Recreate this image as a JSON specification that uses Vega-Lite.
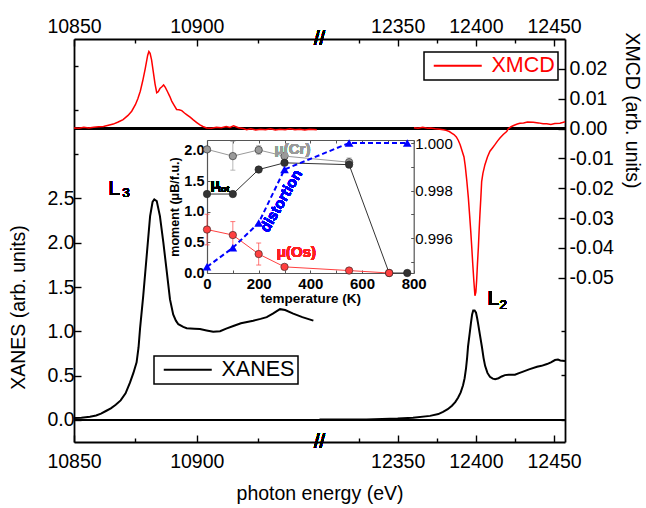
{
  "$schema": "https://vega.github.io/schema/vega-lite/v6.json",
  "width": 491,
  "height": 403,
  "autosize": {"type": "none"},
  "padding": {"left": 74, "top": 39, "right": 81, "bottom": 66},
  "background": "white",
  "config": {
    "view": {"stroke": null},
    "font": "Liberation Sans",
    "text": {"font": "Liberation Sans"},
    "axis": {"grid": false, "domainColor": "black", "domainWidth": 1.8, "tickColor": "black", "tickWidth": 1.4, "labelColor": "black", "titleColor": "black", "labelFont": "Liberation Sans", "titleFont": "Liberation Sans", "labelFlush": false, "labelOverlap": false},
    "legend": {"strokeWidth": 1.5}
  },
  "datasets": {
    "xanes": [
      {"E": 10850, "v": 0.02, "seg": "L"}, {"E": 10853, "v": 0.025, "seg": "L"}, {"E": 10856.5, "v": 0.035, "seg": "L"}, {"E": 10859, "v": 0.05, "seg": "L"}, {"E": 10861, "v": 0.07, "seg": "L"}, {"E": 10863, "v": 0.1, "seg": "L"}, {"E": 10865, "v": 0.13, "seg": "L"}, {"E": 10867, "v": 0.17, "seg": "L"}, {"E": 10869, "v": 0.22, "seg": "L"}, {"E": 10871, "v": 0.3, "seg": "L"}, {"E": 10872.8, "v": 0.42, "seg": "L"}, {"E": 10874.2, "v": 0.53, "seg": "L"}, {"E": 10875.5, "v": 0.65, "seg": "L"}, {"E": 10876.3, "v": 0.82, "seg": "L"}, {"E": 10876.9, "v": 1.03, "seg": "L"}, {"E": 10878.2, "v": 1.4, "seg": "L"}, {"E": 10879.6, "v": 1.85, "seg": "L"}, {"E": 10881, "v": 2.3, "seg": "L"}, {"E": 10882, "v": 2.46, "seg": "L"}, {"E": 10882.7, "v": 2.49, "seg": "L"}, {"E": 10883.7, "v": 2.47, "seg": "L"}, {"E": 10885, "v": 2.3, "seg": "L"}, {"E": 10886.4, "v": 2.0, "seg": "L"}, {"E": 10887.8, "v": 1.67, "seg": "L"}, {"E": 10889.1, "v": 1.36, "seg": "L"}, {"E": 10890.4, "v": 1.19, "seg": "L"}, {"E": 10891.5, "v": 1.12, "seg": "L"}, {"E": 10892.5, "v": 1.08, "seg": "L"}, {"E": 10894.5, "v": 1.05, "seg": "L"}, {"E": 10895.9, "v": 1.035, "seg": "L"}, {"E": 10899, "v": 1.03, "seg": "L"}, {"E": 10901.3, "v": 1.025, "seg": "L"}, {"E": 10904, "v": 1.01, "seg": "L"}, {"E": 10906.7, "v": 0.995, "seg": "L"}, {"E": 10909.5, "v": 1.0, "seg": "L"}, {"E": 10912, "v": 1.03, "seg": "L"}, {"E": 10914.9, "v": 1.06, "seg": "L"}, {"E": 10918, "v": 1.09, "seg": "L"}, {"E": 10923, "v": 1.12, "seg": "L"}, {"E": 10926, "v": 1.14, "seg": "L"}, {"E": 10928.5, "v": 1.16, "seg": "L"}, {"E": 10931, "v": 1.2, "seg": "L"}, {"E": 10933.9, "v": 1.25, "seg": "L"}, {"E": 10936, "v": 1.24, "seg": "L"}, {"E": 10939.3, "v": 1.2, "seg": "L"}, {"E": 10943, "v": 1.16, "seg": "L"}, {"E": 10947.5, "v": 1.12, "seg": "L"},
      {"E": 12300, "v": 0.003, "seg": "R"}, {"E": 12330, "v": 0.005, "seg": "R"}, {"E": 12350, "v": 0.015, "seg": "R"}, {"E": 12359.8, "v": 0.025, "seg": "R"}, {"E": 12370.7, "v": 0.045, "seg": "R"}, {"E": 12376, "v": 0.065, "seg": "R"}, {"E": 12379, "v": 0.09, "seg": "R"}, {"E": 12382, "v": 0.12, "seg": "R"}, {"E": 12384.7, "v": 0.16, "seg": "R"}, {"E": 12386.8, "v": 0.2, "seg": "R"}, {"E": 12388.6, "v": 0.25, "seg": "R"}, {"E": 12390.3, "v": 0.31, "seg": "R"}, {"E": 12391.8, "v": 0.39, "seg": "R"}, {"E": 12392.8, "v": 0.47, "seg": "R"}, {"E": 12393.7, "v": 0.58, "seg": "R"}, {"E": 12394.4, "v": 0.7, "seg": "R"}, {"E": 12395, "v": 0.83, "seg": "R"}, {"E": 12396, "v": 0.97, "seg": "R"}, {"E": 12396.9, "v": 1.1, "seg": "R"}, {"E": 12397.6, "v": 1.19, "seg": "R"}, {"E": 12398.3, "v": 1.235, "seg": "R"}, {"E": 12399.2, "v": 1.235, "seg": "R"}, {"E": 12400.1, "v": 1.21, "seg": "R"}, {"E": 12400.8, "v": 1.15, "seg": "R"}, {"E": 12401.4, "v": 1.09, "seg": "R"}, {"E": 12402.6, "v": 0.96, "seg": "R"}, {"E": 12403.9, "v": 0.82, "seg": "R"}, {"E": 12404.9, "v": 0.7, "seg": "R"}, {"E": 12405.9, "v": 0.61, "seg": "R"}, {"E": 12407.4, "v": 0.53, "seg": "R"}, {"E": 12409, "v": 0.485, "seg": "R"}, {"E": 12410.8, "v": 0.465, "seg": "R"}, {"E": 12412.3, "v": 0.46, "seg": "R"}, {"E": 12414.5, "v": 0.47, "seg": "R"}, {"E": 12416.5, "v": 0.49, "seg": "R"}, {"E": 12418.6, "v": 0.505, "seg": "R"}, {"E": 12421, "v": 0.51, "seg": "R"}, {"E": 12425, "v": 0.51, "seg": "R"}, {"E": 12428, "v": 0.53, "seg": "R"}, {"E": 12430.2, "v": 0.545, "seg": "R"}, {"E": 12434, "v": 0.57, "seg": "R"}, {"E": 12439.1, "v": 0.6, "seg": "R"}, {"E": 12442, "v": 0.61, "seg": "R"}, {"E": 12445.5, "v": 0.63, "seg": "R"}, {"E": 12448, "v": 0.65, "seg": "R"}, {"E": 12450.6, "v": 0.675, "seg": "R"}, {"E": 12452.5, "v": 0.68, "seg": "R"}, {"E": 12454, "v": 0.67, "seg": "R"}, {"E": 12457, "v": 0.665, "seg": "R"}
    ],
    "xmcd": [
      {"E": 10850, "v": 0.0002, "seg": "L"}, {"E": 10852, "v": 0.0001, "seg": "L"}, {"E": 10854, "v": 0.0004, "seg": "L"}, {"E": 10856, "v": 0.0002, "seg": "L"}, {"E": 10858, "v": 0.0004, "seg": "L"}, {"E": 10860, "v": 0.0006, "seg": "L"}, {"E": 10862, "v": 0.0007, "seg": "L"}, {"E": 10864, "v": 0.0011, "seg": "L"}, {"E": 10866, "v": 0.0015, "seg": "L"}, {"E": 10868, "v": 0.0022, "seg": "L"}, {"E": 10870, "v": 0.003, "seg": "L"}, {"E": 10872, "v": 0.0044, "seg": "L"}, {"E": 10873.5, "v": 0.0058, "seg": "L"}, {"E": 10875, "v": 0.008, "seg": "L"}, {"E": 10876, "v": 0.01, "seg": "L"}, {"E": 10877, "v": 0.0125, "seg": "L"}, {"E": 10878, "v": 0.016, "seg": "L"}, {"E": 10879, "v": 0.02, "seg": "L"}, {"E": 10880, "v": 0.0245, "seg": "L"}, {"E": 10880.5, "v": 0.0258, "seg": "L"}, {"E": 10881, "v": 0.0252, "seg": "L"}, {"E": 10881.6, "v": 0.023, "seg": "L"}, {"E": 10882.3, "v": 0.019, "seg": "L"}, {"E": 10883, "v": 0.015, "seg": "L"}, {"E": 10883.7, "v": 0.012, "seg": "L"}, {"E": 10884.3, "v": 0.0123, "seg": "L"}, {"E": 10885, "v": 0.0134, "seg": "L"}, {"E": 10885.8, "v": 0.014, "seg": "L"}, {"E": 10886.5, "v": 0.0146, "seg": "L"}, {"E": 10887.2, "v": 0.0138, "seg": "L"}, {"E": 10888, "v": 0.0125, "seg": "L"}, {"E": 10889, "v": 0.0108, "seg": "L"}, {"E": 10889.8, "v": 0.0092, "seg": "L"}, {"E": 10890.8, "v": 0.0078, "seg": "L"}, {"E": 10891.8, "v": 0.0064, "seg": "L"}, {"E": 10892.8, "v": 0.0063, "seg": "L"}, {"E": 10893.9, "v": 0.006, "seg": "L"}, {"E": 10895, "v": 0.0052, "seg": "L"}, {"E": 10896, "v": 0.0046, "seg": "L"}, {"E": 10897.3, "v": 0.0038, "seg": "L"}, {"E": 10898.6, "v": 0.0029, "seg": "L"}, {"E": 10900, "v": 0.002, "seg": "L"}, {"E": 10901.3, "v": 0.0012, "seg": "L"}, {"E": 10902.5, "v": 0.0007, "seg": "L"}, {"E": 10904, "v": 0.0002, "seg": "L"}, {"E": 10906, "v": 0.0001, "seg": "L"}, {"E": 10908, "v": 0.0004, "seg": "L"}, {"E": 10910, "v": 0.0003, "seg": "L"}, {"E": 10912, "v": 0.0007, "seg": "L"}, {"E": 10913.5, "v": 0.0004, "seg": "L"}, {"E": 10915, "v": 0.0009, "seg": "L"}, {"E": 10917, "v": 0.0003, "seg": "L"}, {"E": 10919, "v": 0.0, "seg": "L"}, {"E": 10920.3, "v": -0.0004, "seg": "L"}, {"E": 10922, "v": -0.0001, "seg": "L"}, {"E": 10924, "v": -0.0005, "seg": "L"}, {"E": 10926, "v": -0.0002, "seg": "L"}, {"E": 10928, "v": -0.0004, "seg": "L"}, {"E": 10930, "v": -0.0001, "seg": "L"}, {"E": 10932, "v": -0.0005, "seg": "L"}, {"E": 10934, "v": -0.0002, "seg": "L"}, {"E": 10936, "v": -0.0004, "seg": "L"}, {"E": 10938, "v": -0.0001, "seg": "L"}, {"E": 10940, "v": -0.0004, "seg": "L"}, {"E": 10942, "v": -0.0002, "seg": "L"}, {"E": 10944, "v": -0.0005, "seg": "L"}, {"E": 10946, "v": -0.0002, "seg": "L"}, {"E": 10948.9, "v": -0.0004, "seg": "L"},
      {"E": 12360.4, "v": 0.0003, "seg": "R"}, {"E": 12363, "v": 0.0001, "seg": "R"}, {"E": 12366, "v": 0.0004, "seg": "R"}, {"E": 12369, "v": 0.0001, "seg": "R"}, {"E": 12371, "v": 0.0002, "seg": "R"}, {"E": 12374, "v": -0.0001, "seg": "R"}, {"E": 12377, "v": -0.0002, "seg": "R"}, {"E": 12379.2, "v": -0.0004, "seg": "R"}, {"E": 12381, "v": -0.0006, "seg": "R"}, {"E": 12383, "v": -0.001, "seg": "R"}, {"E": 12384.5, "v": -0.0015, "seg": "R"}, {"E": 12386, "v": -0.002, "seg": "R"}, {"E": 12387.5, "v": -0.0028, "seg": "R"}, {"E": 12388.8, "v": -0.004, "seg": "R"}, {"E": 12390, "v": -0.0055, "seg": "R"}, {"E": 12391.2, "v": -0.0075, "seg": "R"}, {"E": 12392.4, "v": -0.0095, "seg": "R"}, {"E": 12393.2, "v": -0.0125, "seg": "R"}, {"E": 12394.2, "v": -0.0175, "seg": "R"}, {"E": 12395.2, "v": -0.0232, "seg": "R"}, {"E": 12396, "v": -0.029, "seg": "R"}, {"E": 12396.7, "v": -0.0342, "seg": "R"}, {"E": 12397.4, "v": -0.04, "seg": "R"}, {"E": 12398, "v": -0.0453, "seg": "R"}, {"E": 12398.7, "v": -0.051, "seg": "R"}, {"E": 12399.4, "v": -0.056, "seg": "R"}, {"E": 12400, "v": -0.0548, "seg": "R"}, {"E": 12400.5, "v": -0.0508, "seg": "R"}, {"E": 12401, "v": -0.0455, "seg": "R"}, {"E": 12401.6, "v": -0.0398, "seg": "R"}, {"E": 12402.1, "v": -0.034, "seg": "R"}, {"E": 12402.6, "v": -0.0287, "seg": "R"}, {"E": 12403.2, "v": -0.023, "seg": "R"}, {"E": 12403.7, "v": -0.0178, "seg": "R"}, {"E": 12404.5, "v": -0.015, "seg": "R"}, {"E": 12405.8, "v": -0.0121, "seg": "R"}, {"E": 12407.4, "v": -0.0095, "seg": "R"}, {"E": 12409, "v": -0.0076, "seg": "R"}, {"E": 12410.6, "v": -0.0065, "seg": "R"}, {"E": 12412.2, "v": -0.0054, "seg": "R"}, {"E": 12413.8, "v": -0.0042, "seg": "R"}, {"E": 12415.4, "v": -0.0032, "seg": "R"}, {"E": 12417.5, "v": -0.002, "seg": "R"}, {"E": 12419.7, "v": -0.001, "seg": "R"}, {"E": 12420.7, "v": -0.0001, "seg": "R"}, {"E": 12422.5, "v": 0.0006, "seg": "R"}, {"E": 12424.5, "v": 0.0011, "seg": "R"}, {"E": 12426.5, "v": 0.0015, "seg": "R"}, {"E": 12428.2, "v": 0.0018, "seg": "R"}, {"E": 12430.5, "v": 0.0019, "seg": "R"}, {"E": 12433, "v": 0.0022, "seg": "R"}, {"E": 12436.7, "v": 0.0021, "seg": "R"}, {"E": 12440, "v": 0.0019, "seg": "R"}, {"E": 12443, "v": 0.0016, "seg": "R"}, {"E": 12445.3, "v": 0.0016, "seg": "R"}, {"E": 12448, "v": 0.0014, "seg": "R"}, {"E": 12450.5, "v": 0.0017, "seg": "R"}, {"E": 12453.8, "v": 0.0018, "seg": "R"}, {"E": 12456, "v": 0.0021, "seg": "R"}, {"E": 12457, "v": 0.0023, "seg": "R"}
    ],
    "moment": [
      {"T": 0, "s": "Cr", "v": 2.02}, {"T": 100, "s": "Cr", "v": 1.91, "lo": 1.68, "hi": 2.15}, {"T": 200, "s": "Cr", "v": 2.01, "lo": 1.94, "hi": 2.08}, {"T": 300, "s": "Cr", "v": 1.91, "lo": 1.85, "hi": 1.97}, {"T": 550, "s": "Cr", "v": 1.81, "lo": 1.74, "hi": 1.88},
      {"T": 0, "s": "tot", "v": 1.29}, {"T": 100, "s": "tot", "v": 1.29}, {"T": 200, "s": "tot", "v": 1.69}, {"T": 300, "s": "tot", "v": 1.8}, {"T": 550, "s": "tot", "v": 1.77}, {"T": 705, "s": "tot", "v": 0.0}, {"T": 775, "s": "tot", "v": 0.0},
      {"T": 0, "s": "Os", "v": 0.71, "lo": 0.46, "hi": 0.96}, {"T": 100, "s": "Os", "v": 0.62, "lo": 0.4, "hi": 0.84}, {"T": 200, "s": "Os", "v": 0.31, "lo": 0.13, "hi": 0.49}, {"T": 300, "s": "Os", "v": 0.1, "lo": 0.07, "hi": 0.14}, {"T": 550, "s": "Os", "v": 0.04}, {"T": 705, "s": "Os", "v": 0.0}
    ],
    "distortion": [
      {"T": 0, "d": 0.99479}, {"T": 100, "d": 0.99559}, {"T": 200, "d": 0.99664}, {"T": 300, "d": 0.99889}, {"T": 550, "d": 1.0}, {"T": 775, "d": 1.0}
    ]
  },
  "resolve": {"scale": {"x": "independent", "y": "independent", "color": "independent", "stroke": "independent"}},
  "layer": [
    {
      "data": {"name": "xanes"},
      "layer": [
        {
          "mark": {"type": "rule", "color": "black", "strokeWidth": 1.5},
          "encoding": {"y": {"datum": 0, "type": "quantitative", "scale": {"domain": [-0.25, 4.3], "nice": false, "zero": false}}}
        },
        {
          "mark": {"type": "line", "strokeWidth": 2},
          "encoding": {
            "x": {"field": "E", "type": "quantitative", "scale": {"domain": [10850, 10950, 12300, 12457], "range": [0, 245.5, 245.5, 491], "nice": false, "zero": false},
              "axis": {"orient": "bottom", "values": [10850, 10875, 10900, 10925, 12325, 12350, 12375, 12400, 12425, 12450], "labelExpr": "indexof([10850,10900,12350,12400,12450], datum.value) >= 0 ? format(datum.value, 'd') : ''", "tickSize": {"condition": {"test": "indexof([10850,10900,12350,12400,12450], datum.value) >= 0", "value": -7}, "value": -4}, "labelPadding": 17, "labelFontSize": 19.5, "title": "photon energy (eV)", "titleFontSize": 19.5, "titleFontWeight": "normal", "titlePadding": 11}},
            "y": {"field": "v", "type": "quantitative", "scale": {"domain": [-0.25, 4.3], "nice": false, "zero": false},
              "axis": {"orient": "left", "values": [0, 0.25, 0.5, 0.75, 1, 1.25, 1.5, 1.75, 2, 2.25, 2.5, 2.75, 3, 3.25, 3.5, 3.75, 4, 4.25], "labelExpr": "datum.value <= 2.5 && abs(datum.value*2 - round(datum.value*2)) < 0.001 ? format(datum.value, '.1f') : ''", "tickSize": {"condition": {"test": "datum.value <= 2.5 && abs(datum.value*2 - round(datum.value*2)) < 0.001", "value": -7}, "value": -4}, "labelPadding": 7, "labelFontSize": 19.5, "title": "XANES (arb. units)", "titleFontSize": 19.5, "titleFontWeight": "normal", "titleX": -56, "titleY": 268, "titleBaseline": "middle"}},
            "detail": {"field": "seg"},
            "color": {"datum": "XANES", "type": "nominal", "scale": {"range": ["black"]},
              "legend": {"orient": "none", "legendX": 80, "legendY": 317, "title": null, "symbolType": "M-3,0H3", "symbolSize": 256, "symbolStrokeWidth": 2, "labelFontSize": 21.5, "labelColor": "black", "strokeColor": "black", "padding": 3, "symbolOffset": 20, "labelOffset": 23}}
          }
        },
        {
          "mark": {"type": "text", "text": "L", "font": "Liberation Sans", "fontSize": 21, "fontWeight": 400, "align": "center", "baseline": "middle"},
          "encoding": {"x": {"datum": 10866.3, "type": "quantitative"}, "y": {"datum": 2.61, "type": "quantitative"}}
        },
        {
          "mark": {"type": "text", "text": "3", "font": "Liberation Sans", "fontSize": 13.5, "fontWeight": 400, "align": "center", "baseline": "middle"},
          "encoding": {"x": {"datum": 10871.2, "type": "quantitative"}, "y": {"datum": 2.56, "type": "quantitative"}}
        },
        {
          "mark": {"type": "text", "text": "L", "font": "Liberation Sans", "fontSize": 21, "fontWeight": 400, "align": "center", "baseline": "middle"},
          "encoding": {"x": {"datum": 12411.1, "type": "quantitative"}, "y": {"datum": 1.37, "type": "quantitative"}}
        },
        {
          "mark": {"type": "text", "text": "2", "font": "Liberation Sans", "fontSize": 13.5, "fontWeight": 400, "align": "center", "baseline": "middle"},
          "encoding": {"x": {"datum": 12417.5, "type": "quantitative"}, "y": {"datum": 1.3, "type": "quantitative"}}
        },
        {
          "mark": {"type": "text", "text": "//", "font": "Liberation Sans", "fontSize": 20, "fontWeight": 400, "align": "center", "baseline": "middle"},
          "encoding": {"x": {"datum": 10951, "type": "quantitative"}, "y": {"datum": -0.25, "type": "quantitative"}}
        },
        {
          "mark": {"type": "text", "text": "//", "font": "Liberation Sans", "fontSize": 20, "fontWeight": 400, "align": "center", "baseline": "middle"},
          "encoding": {"x": {"datum": 10951, "type": "quantitative"}, "y": {"datum": 4.3, "type": "quantitative"}}
        }
      ]
    },
    {
      "data": {"name": "xmcd"},
      "layer": [
        {
          "mark": {"type": "rule", "color": "black", "strokeWidth": 1.5},
          "encoding": {"y": {"datum": 0, "type": "quantitative", "scale": {"domain": [-0.105, 0.03], "nice": false, "zero": false}}}
        },
        {
          "mark": {"type": "line", "strokeWidth": 1.5},
          "encoding": {
            "x": {"field": "E", "type": "quantitative", "scale": {"domain": [10850, 10950, 12300, 12457], "range": [0, 245.5, 245.5, 491], "nice": false, "zero": false},
              "axis": {"orient": "top", "values": [10850, 10875, 10900, 10925, 12325, 12350, 12375, 12400, 12425, 12450], "labelExpr": "indexof([10850,10900,12350,12400,12450], datum.value) >= 0 ? format(datum.value, 'd') : ''", "tickSize": {"condition": {"test": "indexof([10850,10900,12350,12400,12450], datum.value) >= 0", "value": -7}, "value": -4}, "labelPadding": 10, "labelFontSize": 19.5, "title": null}},
            "y": {"field": "v", "type": "quantitative", "scale": {"domain": [-0.105, 0.03], "nice": false, "zero": false},
              "axis": {"orient": "right", "values": [0.025, 0.02, 0.015, 0.01, 0.005, 0, -0.005, -0.01, -0.015, -0.02, -0.025, -0.03, -0.035, -0.04, -0.045, -0.05, -0.0605, -0.0679, -0.0753, -0.0827, -0.0902, -0.0976], "labelExpr": "datum.value >= -0.0501 && datum.value <= 0.0201 && abs(datum.value*100 - round(datum.value*100)) < 0.001 ? (datum.value < -0.0001 ? '-' : '') + format(abs(datum.value), '.2f') : ''", "tickSize": {"condition": {"test": "datum.value >= -0.0501 && datum.value <= 0.0201 && abs(datum.value*100 - round(datum.value*100)) < 0.001", "value": -7}, "value": -4}, "labelPadding": 11, "labelFontSize": 19.5, "title": "XMCD (arb. units)", "titleFontSize": 19.5, "titleFontWeight": "normal", "titleX": 66, "titleY": 71, "titleAngle": 90, "titleBaseline": "middle"}},
            "detail": {"field": "seg"},
            "stroke": {"datum": "XMCD", "type": "nominal", "scale": {"range": ["#ff0000"]},
              "legend": {"orient": "none", "legendX": 350, "legendY": 13, "title": null, "symbolType": "M-3,0H3", "symbolSize": 256, "symbolStrokeWidth": 2, "labelFontSize": 21.5, "labelColor": "#ff0000", "strokeColor": "black", "padding": 3, "symbolOffset": 20, "labelOffset": 23}}
          }
        }
      ]
    },
    {
      "data": {"name": "moment"},
      "layer": [
        {
          "mark": {"type": "line", "strokeWidth": 1},
          "encoding": {
            "x": {"field": "T", "type": "quantitative", "scale": {"domain": [0, 800], "range": [133, 339.7], "nice": false, "zero": false},
              "axis": {"orient": "bottom", "offset": -169, "values": [0, 100, 200, 300, 400, 500, 600, 700, 800], "labelExpr": "datum.value % 200 == 0 ? format(datum.value, 'd') : ''", "tickSize": -3, "tickWidth": 1, "tickColor": "#555", "domainColor": "#555", "domainWidth": 1.2, "labelPadding": 6, "labelFontSize": 15, "labelFontWeight": "bold", "title": "temperature (K)", "titleFontSize": 13.5, "titleFontWeight": "bold", "titlePadding": 0}},
            "y": {"field": "v", "type": "quantitative", "scale": {"domain": [0, 2.173], "range": [234, 101], "nice": false, "zero": false},
              "axis": {"orient": "left", "offset": -133, "values": [0, 0.5, 1, 1.5, 2], "format": ".1f", "tickSize": -3, "tickWidth": 1, "tickColor": "#555", "domainColor": "#555", "domainWidth": 1.2, "labelPadding": 6, "labelFontSize": 14.5, "labelFontWeight": "bold", "title": "moment (μB/f.u.)", "titleFontSize": 12.5, "titleFontWeight": "bold", "titlePadding": 2}},
            "color": {"field": "s", "type": "nominal", "scale": {"domain": ["Cr", "tot", "Os"], "range": ["#9a9a9a", "#333333", "#ff4040"]}, "legend": null}
          }
        },
        {
          "transform": [{"filter": "isValid(datum.lo)"}],
          "mark": {"type": "rule", "strokeWidth": 1, "opacity": 0.7},
          "encoding": {
            "x": {"field": "T", "type": "quantitative"},
            "y": {"field": "lo", "type": "quantitative"},
            "y2": {"field": "hi"},
            "color": {"field": "s", "type": "nominal", "legend": null}
          }
        },
        {
          "transform": [{"filter": "isValid(datum.lo)"}],
          "mark": {"type": "tick", "orient": "horizontal", "size": 5, "thickness": 1, "opacity": 0.7},
          "encoding": {
            "x": {"field": "T", "type": "quantitative"},
            "y": {"field": "hi", "type": "quantitative"},
            "color": {"field": "s", "type": "nominal", "legend": null}
          }
        },
        {
          "transform": [{"filter": "isValid(datum.lo)"}],
          "mark": {"type": "tick", "orient": "horizontal", "size": 5, "thickness": 1, "opacity": 0.7},
          "encoding": {
            "x": {"field": "T", "type": "quantitative"},
            "y": {"field": "lo", "type": "quantitative"},
            "color": {"field": "s", "type": "nominal", "legend": null}
          }
        },
        {
          "mark": {"type": "point", "shape": "circle", "filled": true, "size": 55, "opacity": 1, "stroke": "#222", "strokeWidth": 0.6},
          "encoding": {
            "x": {"field": "T", "type": "quantitative"},
            "y": {"field": "v", "type": "quantitative"},
            "color": {"field": "s", "type": "nominal", "legend": null}
          }
        },
        {
          "mark": {"type": "text", "text": "μ(Cr)", "fontSize": 15, "fontWeight": "bold", "color": "#9a9a9a", "align": "center", "baseline": "middle"},
          "encoding": {"x": {"datum": 331, "type": "quantitative"}, "y": {"datum": 2.03, "type": "quantitative"}}
        },
        {
          "mark": {"type": "text", "text": "μ(Os)", "fontSize": 15, "fontWeight": "bold", "color": "#ff2020", "align": "center", "baseline": "middle"},
          "encoding": {"x": {"datum": 346, "type": "quantitative"}, "y": {"datum": 0.34, "type": "quantitative"}}
        },
        {
          "mark": {"type": "text", "text": "μ", "fontSize": 15, "fontWeight": "bold", "color": "black", "align": "center", "baseline": "middle"},
          "encoding": {"x": {"datum": 31, "type": "quantitative"}, "y": {"datum": 1.46, "type": "quantitative"}}
        },
        {
          "mark": {"type": "text", "text": "tot", "fontSize": 9, "fontWeight": "bold", "color": "black", "align": "left", "baseline": "middle"},
          "encoding": {"x": {"datum": 43, "type": "quantitative"}, "y": {"datum": 1.38, "type": "quantitative"}}
        },
        {
          "mark": {"type": "text", "text": "distortion", "fontSize": 15, "fontWeight": "bold", "color": "#0000ff", "align": "center", "baseline": "middle", "angle": -60},
          "encoding": {"x": {"datum": 286, "type": "quantitative"}, "y": {"datum": 1.18, "type": "quantitative"}}
        }
      ]
    },
    {
      "data": {"name": "distortion"},
      "layer": [
        {
          "mark": {"type": "line", "strokeWidth": 2, "strokeDash": [5, 3], "color": "#0000ff"},
          "encoding": {
            "x": {"field": "T", "type": "quantitative", "scale": {"domain": [0, 800], "range": [133, 339.7], "nice": false, "zero": false},
              "axis": {"orient": "top", "offset": -101, "values": [0, 100, 200, 300, 400, 500, 600, 700, 800], "labels": false, "tickSize": -3, "tickWidth": 1, "tickColor": "#555", "domainColor": "#555", "domainWidth": 1.2, "title": null}},
            "y": {"field": "d", "type": "quantitative", "scale": {"domain": [0.99453, 1.00013], "range": [234, 101], "nice": false, "zero": false},
              "axis": {"orient": "right", "offset": -151.3, "values": [0.995, 0.996, 0.997, 0.998, 0.999, 1.0], "labelExpr": "indexof([0.996, 0.998, 1], datum.value) >= 0 ? format(datum.value, '.3f') : ''", "tickSize": -3, "tickWidth": 1, "tickColor": "#555", "domainColor": "#555", "domainWidth": 1.2, "labelPadding": 4, "labelFontSize": 15, "title": null}}
          }
        },
        {
          "mark": {"type": "point", "shape": "triangle-up", "filled": true, "size": 75, "color": "#0000ff", "opacity": 1},
          "encoding": {
            "x": {"field": "T", "type": "quantitative"},
            "y": {"field": "d", "type": "quantitative"}
          }
        }
      ]
    }
  ]
}
